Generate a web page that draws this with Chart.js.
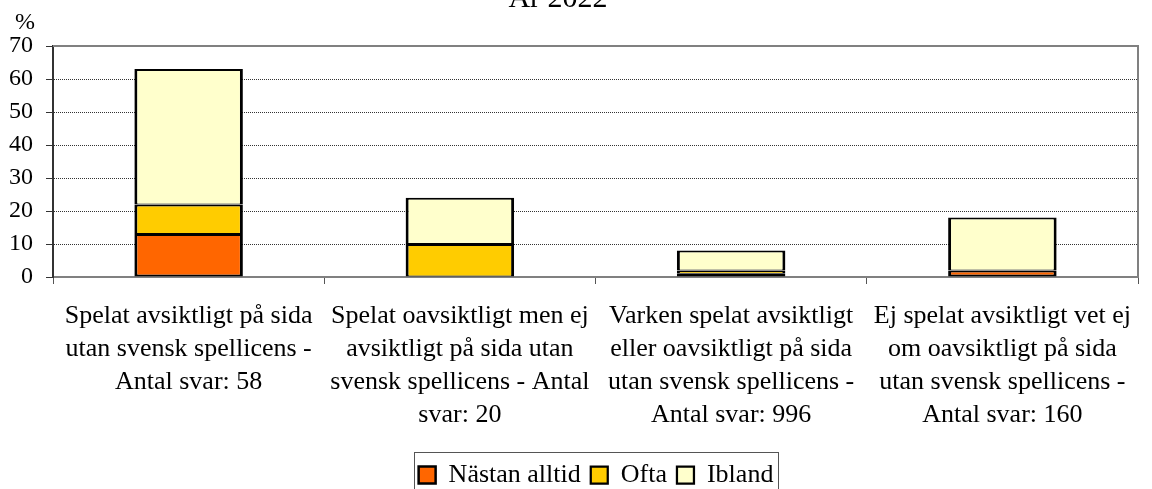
<!DOCTYPE html>
<html>
<head>
<meta charset="utf-8">
<script src="https://cdn.jsdelivr.net/npm/chart.js@4/dist/chart.umd.min.js"></script>
<style>
  html, body { margin: 0; padding: 0; background: #fff; }
  canvas { display: block; }
</style>
</head>
<body>
<canvas id="chart" width="1152" height="489"></canvas>
<script>
// --- data ---
const categories = [
  ["Spelat avsiktligt på sida", "utan svensk spellicens -", "Antal svar: 58"],
  ["Spelat oavsiktligt men ej", "avsiktligt på sida utan", "svensk spellicens - Antal", "svar: 20"],
  ["Varken spelat avsiktligt", "eller oavsiktligt på sida", "utan svensk spellicens -", "Antal svar: 996"],
  ["Ej spelat avsiktligt vet ej", "om oavsiktligt på sida", "utan svensk spellicens -", "Antal svar: 160"]
];
const seriesNames = ["Nästan alltid", "Ofta", "Ibland"];
const nastanAlltid = [13, 0, 1, 2];
const ofta = [9, 10, 1, 0];
const ibland = [41, 14, 6, 16];
const yMin = 0, yMax = 70, yStep = 10;
const titleText = "År 2022";
const unitText = "%";

const FONT = "'Liberation Serif', 'Times New Roman', serif";

// nudge the legend so it sits centred under the plot, like the original
const LEGEND_DX = 27, LEGEND_DY = 9;

const extras = {
  id: "extras",
  afterLayout(chart) {
    const lg = chart.legend;
    if (!lg) return;
    lg.left += LEGEND_DX; lg.right += LEGEND_DX;
    lg.top += LEGEND_DY; lg.bottom += LEGEND_DY;
  },
  beforeDatasetsDraw(chart) {
    // grey frame on top and right of the plot
    const { ctx, chartArea: a } = chart;
    ctx.save();
    ctx.strokeStyle = "#808080";
    ctx.lineWidth = 2;
    ctx.beginPath();
    ctx.moveTo(a.left, a.top);
    ctx.lineTo(a.right, a.top);
    ctx.lineTo(a.right, a.bottom);
    ctx.stroke();
    ctx.restore();
  },
  afterDraw(chart) {
    const { ctx } = chart;
    ctx.save();
    ctx.fillStyle = "#000";
    ctx.textAlign = "center";
    ctx.textBaseline = "alphabetic";
    ctx.font = "30px " + FONT;
    ctx.fillText(titleText, 558, 7);
    ctx.font = "24px " + FONT;
    ctx.fillText(unitText, 25, 29);

    // box round the legend
    const boxes = chart.legend.legendHitBoxes;
    if (boxes && boxes.length) {
      const l = Math.min(...boxes.map(b => b.left)) - 5;
      const r = Math.max(...boxes.map(b => b.left + b.width)) + 4;
      ctx.strokeStyle = "#555";
      ctx.lineWidth = 1;
      ctx.strokeRect(Math.round(l) + 0.5, 452.5, Math.round(r - l), 50);
    }
    ctx.restore();
  }
};

const barStyle = (bottom) => ({
  borderColor: "#000",
  borderWidth: { top: 2, left: 3, right: 3, bottom: bottom },
  borderSkipped: false,
  barPercentage: 0.4,
  categoryPercentage: 1
});

new Chart(document.getElementById("chart"), {
  type: "bar",
  data: {
    labels: categories,
    datasets: [
      Object.assign({ label: seriesNames[0], data: nastanAlltid, backgroundColor: "#FF6600" }, barStyle(2)),
      Object.assign({ label: seriesNames[1], data: ofta, backgroundColor: "#FFCC00" }, barStyle(1)),
      Object.assign({ label: seriesNames[2], data: ibland, backgroundColor: "#FFFFCC" }, barStyle(1))
    ]
  },
  options: {
    responsive: false,
    animation: false,
    layout: { padding: { top: 46, right: 14, left: 0, bottom: 0 } },
    plugins: {
      title: { display: false },
      tooltip: { enabled: false },
      legend: {
        position: "bottom",
        labels: {
          font: { family: FONT, size: 26 },
          color: "#000",
          boxWidth: 17,
          boxHeight: 17,
          padding: 10
        }
      }
    },
    scales: {
      x: {
        stacked: true,
        afterFit: s => { s.height = 166; },
        grid: {
          offset: true,
          drawOnChartArea: false,
          drawTicks: true,
          tickLength: 7,
          tickColor: "#555"
        },
        border: { color: "#808080", width: 2 },
        ticks: {
          color: "#000",
          padding: 16,
          maxRotation: 0,
          autoSkip: false,
          font: { family: FONT, size: 26, lineHeight: 1.27 }
        }
      },
      y: {
        stacked: true,
        min: yMin,
        max: yMax,
        afterFit: s => { s.width = 53; },
        grid: {
          color: c => (c.tick && (c.tick.value === yMin || c.tick.value === yMax)) ? "rgba(0,0,0,0)" : "#333",
          tickColor: "#333",
          tickLength: 7,
          lineWidth: 1
        },
        border: { color: "#333", width: 2, dash: [1, 1] },
        ticks: {
          stepSize: yStep,
          color: "#000",
          padding: 13,
          font: { family: FONT, size: 24 }
        }
      }
    }
  },
  plugins: [extras]
});
</script>
</body>
</html>
